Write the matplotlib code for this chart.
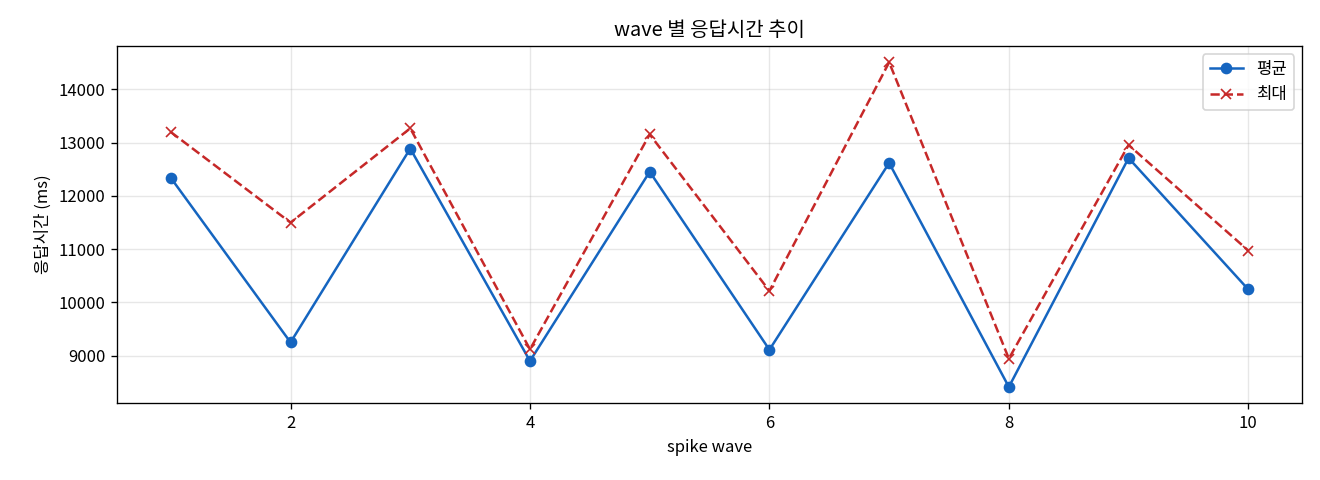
import numpy as np
import matplotlib
matplotlib.use('Agg')
import matplotlib.pyplot as plt

plt.rcParams['font.family'] = ['Noto Sans CJK KR', 'DejaVu Sans']
plt.rcParams['axes.unicode_minus'] = False

# spike wave 번호
waves = [1, 2, 3, 4, 5, 6, 7, 8, 9, 10]
# 평균 응답시간 (ms)
avg_ms = [12340, 9250, 12890, 8900, 12455, 9112, 12620, 8413, 12712, 10244]
# 최대 응답시간 (ms)
max_ms = [13200, 11500, 13270, 9120, 13156, 10217, 14510, 8945, 12957, 10975]

fig, ax = plt.subplots(figsize=(11, 4), dpi=120)
ax.plot(waves, avg_ms, marker='o', color='#1565C0', linewidth=1.5, markersize=6, label='평균')
ax.plot(waves, max_ms, marker='x', linestyle='--', color='#C62828', linewidth=1.5, markersize=6, label='최대')

ax.set_title('wave 별 응답시간 추이')
ax.set_xlabel('spike wave')
ax.set_ylabel('응답시간 (ms)')
ax.grid(True, alpha=0.3)
ax.legend(loc='upper right')

plt.subplots_adjust(left=0.0886, right=0.9865, top=0.904, bottom=0.16)
plt.savefig('out.png')
